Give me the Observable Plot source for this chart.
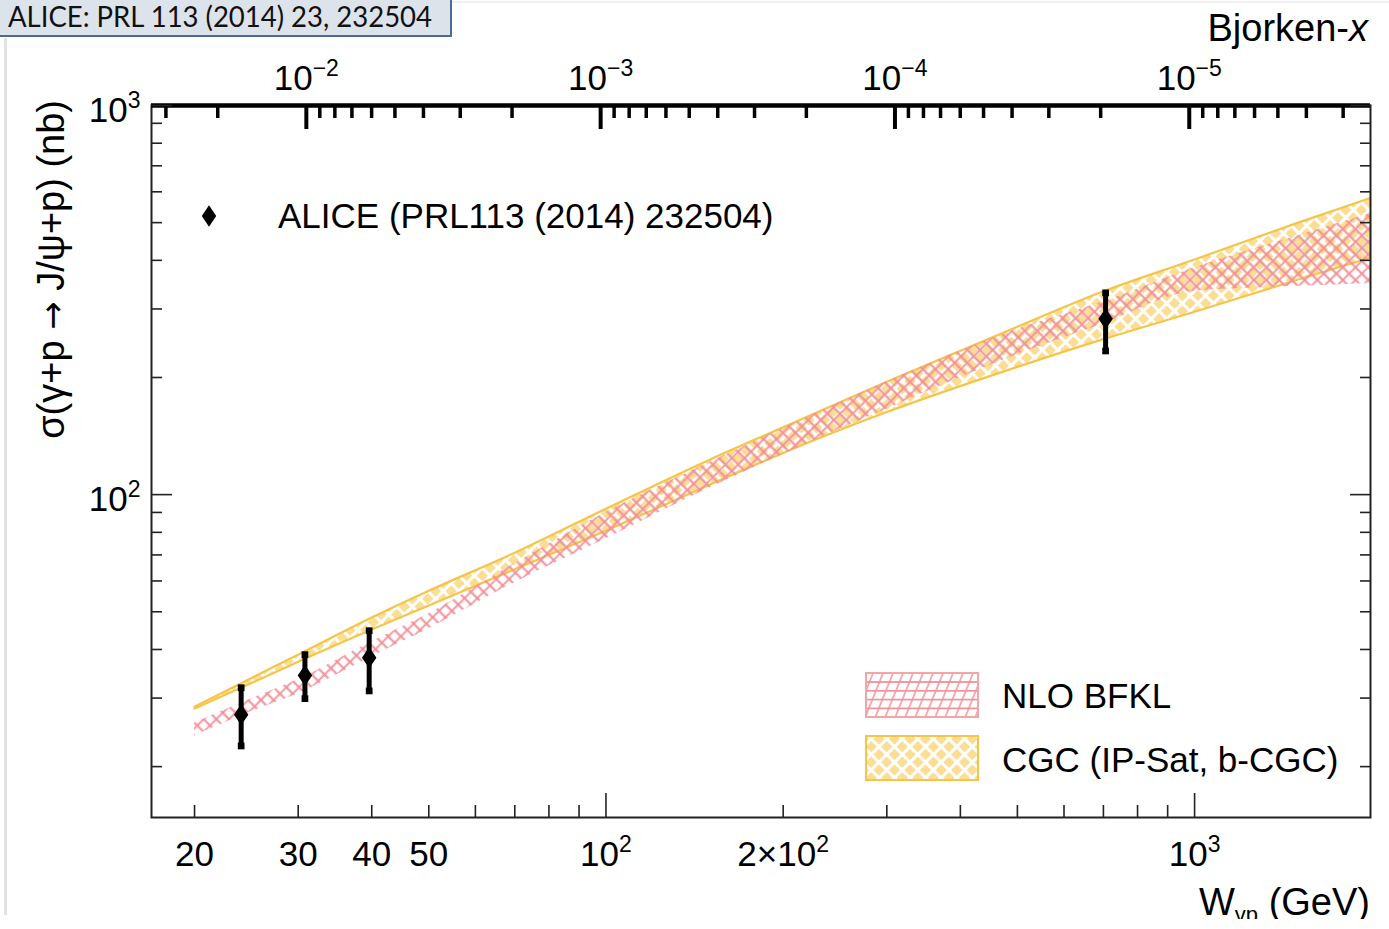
<!DOCTYPE html>
<html>
<head>
<meta charset="utf-8">
<script src="https://cdn.jsdelivr.net/npm/d3@7"></script>
<script src="https://cdn.jsdelivr.net/npm/@observablehq/plot@0.6"></script>
<style>
html,body{margin:0;padding:0;background:#fff;}
#wrap{position:relative;width:1389px;height:929px;overflow:hidden;}
</style>
</head>
<body>
<div id="wrap"></div>
<script>
// ---------------- data ----------------
const M_JPSI = 3.097; // GeV, Bjorken-x = (M/W)^2

// theory bands, W in GeV, sigma in nb
const bandW    = [20, 25, 30, 40, 50, 70, 100, 150, 200, 300, 500, 700, 1000, 1500, 2000];
const cgcHigh  = [28.5, 33.8, 38.8, 48.3, 56.6, 70.9, 92.0, 123, 149, 195, 270, 333, 402, 500, 580];
const cgcLow   = [28.2, 32.8, 37.2, 45.0, 51.9, 64.3, 80.8, 106, 128, 163, 213, 251, 295, 357, 407];
const bfklHigh = [25.9, 29.9, 33.5, 41.9, 49.4, 66.5, 90.0, 121, 148, 195, 266, 313, 383, 463, 528];
const bfklLow  = [24.0, 27.7, 30.8, 38.3, 45.2, 59.4, 77.0, 104, 127, 166, 229, 275, 333, 343, 349];

// ALICE data points
const aliceW       = [24.0, 30.8, 39.6, 706];
const aliceSigma   = [27.2, 34.3, 38.1, 283];
const aliceErrLow  = [22.6, 29.9, 31.3, 234];
const aliceErrHigh = [31.9, 38.8, 44.7, 330];

// axes
const xDomain = [16.9, 1990];
const yDomain = [14.8, 1000];
const wMajor = [100, 1000];
const wMinor = [20, 30, 40, 50, 60, 70, 80, 90, 200, 300, 400, 500, 600, 700, 800, 900];
const wLabels = [20, 30, 40, 50, 100, 200, 1000];
const wLabelText = ["20", "30", "40", "50", "10^2", "2×10^2", "10^3"];
const sigmaMajor = [100, 1000];
const sigmaMinor = [20, 30, 40, 50, 60, 70, 80, 90, 200, 300, 400, 500, 600, 700, 800, 900];
const sigmaLabels = [100, 1000];
const sigmaLabelText = ["10^2", "10^3"];
const bjorkenMajor = [1e-2, 1e-3, 1e-4, 1e-5];
const bjorkenLabelText = ["10^−2", "10^−3", "10^−4", "10^−5"];
const bjorkenMinor = [3e-2, 2e-2,
  9e-3, 8e-3, 7e-3, 6e-3, 5e-3, 4e-3, 3e-3, 2e-3,
  9e-4, 8e-4, 7e-4, 6e-4, 5e-4, 4e-4, 3e-4, 2e-4,
  9e-5, 8e-5, 7e-5, 6e-5, 5e-5, 4e-5, 3e-5, 2e-5,
  9e-6, 8e-6, 7e-6, 6e-6, 5e-6, 4e-6, 3e-6];

const legendAlice = "ALICE (PRL113 (2014) 232504)";
const legendBfkl = "NLO BFKL";
const legendCgc = "CGC (IP-Sat, b-CGC)";
const headerText = "ALICE: PRL 113 (2014) 23, 232504";

// ---------------- tables ----------------
const cgc = bandW.map((w, i) => ({w, lo: cgcLow[i], hi: cgcHigh[i]}));
const bfkl = bandW.map((w, i) => ({w, lo: bfklLow[i], hi: bfklHigh[i]}));
const alice = aliceW.map((w, i) => ({w, s: aliceSigma[i], lo: aliceErrLow[i], hi: aliceErrHigh[i]}));
const bjToW = (xb) => M_JPSI / Math.sqrt(xb);
const inX = (w) => w >= xDomain[0] && w <= xDomain[1];
const topMajorW = bjorkenMajor.map(bjToW);
const topMinorW = bjorkenMinor.map(bjToW).filter(inX);

// ROOT-like tall diamond marker
const tallDiamond = {
  draw(ctx, size) {
    const h = Math.sqrt(size) * 0.75, w = h * 0.68;
    ctx.moveTo(0, -h); ctx.lineTo(w, 0); ctx.lineTo(0, h); ctx.lineTo(-w, 0); ctx.closePath();
  }
};

const FONT = "'Liberation Sans', Arial, Helvetica, sans-serif";
const FS = 35;
const tickStroke = "#222";

const plot = Plot.plot({
  width: 1389,
  height: 929,
  marginLeft: 151,
  marginRight: 19,
  marginTop: 105,
  marginBottom: 112,
  style: {fontFamily: FONT, fontSize: FS + "px", color: "#000", background: "transparent"},
  x: {type: "log", domain: xDomain},
  y: {type: "log", domain: yDomain},
  marks: [
    // CGC band
    Plot.areaY(cgc, {x: "w", y1: "lo", y2: "hi", fill: "url(#cgcPattern)", curve: "monotone-x", clip: true}),
    Plot.line(cgc, {x: "w", y: "hi", stroke: "#f5c54a", strokeWidth: 2.2, curve: "monotone-x", clip: true}),
    Plot.line(cgc, {x: "w", y: "lo", stroke: "#f5c54a", strokeWidth: 2.2, curve: "monotone-x", clip: true}),
    // NLO BFKL band
    Plot.areaY(bfkl, {x: "w", y1: "lo", y2: "hi", fill: "url(#bfklPattern)", curve: "monotone-x", clip: true}),
    // ALICE data
    Plot.ruleX(alice, {x: "w", y1: "lo", y2: "hi", stroke: "#000", strokeWidth: 5}),
    Plot.dot(alice, {x: "w", y: "lo", symbol: "square", r: 3.8, fill: "#000"}),
    Plot.dot(alice, {x: "w", y: "hi", symbol: "square", r: 3.8, fill: "#000"}),
    Plot.dot(alice, {x: "w", y: "s", symbol: tallDiamond, r: 8, fill: "#000"}),
    // frame
    Plot.frame({stroke: "#222", strokeWidth: 2}),
    Plot.ruleY([yDomain[1]], {stroke: "#000", strokeWidth: 4.5}),
    // bottom axis ticks (inward)
    Plot.axisX(wMajor, {anchor: "bottom", tickSize: -24, tickFormat: () => "", label: null, stroke: tickStroke, strokeWidth: 1.6}),
    Plot.axisX(wMinor, {anchor: "bottom", tickSize: -12, tickFormat: () => "", label: null, stroke: tickStroke, strokeWidth: 1.6}),
    Plot.axisX(wLabels, {anchor: "bottom", tickSize: 0, tickPadding: 24, label: null, fontSize: FS,
      tickFormat: (d) => wLabelText[wLabels.indexOf(d)]}),
    // top axis (Bjorken-x)
    Plot.axisX(topMajorW, {anchor: "top", tickSize: -23, tickFormat: () => "", label: null, stroke: "#000", strokeWidth: 4}),
    Plot.axisX(topMinorW, {anchor: "top", tickSize: -12, tickFormat: () => "", label: null, stroke: "#000", strokeWidth: 3.5}),
    Plot.axisX(topMajorW, {anchor: "top", tickSize: 0, tickPadding: 16, label: null, fontSize: FS,
      tickFormat: (d) => bjorkenLabelText[topMajorW.indexOf(d)]}),
    // left axis
    Plot.axisY(sigmaMajor, {anchor: "left", tickSize: -21, tickFormat: () => "", label: null, stroke: tickStroke, strokeWidth: 1.6}),
    Plot.axisY(sigmaMinor, {anchor: "left", tickSize: -11, tickFormat: () => "", label: null, stroke: tickStroke, strokeWidth: 1.6}),
    Plot.axisY(sigmaLabels, {anchor: "left", tickSize: 0, tickPadding: 11, label: null, fontSize: FS, dy: 5,
      tickFormat: (d) => sigmaLabelText[sigmaLabels.indexOf(d)]}),
    // right axis (mirrored ticks)
    Plot.axisY(sigmaMajor, {anchor: "right", tickSize: -21, tickFormat: () => "", label: null, stroke: tickStroke, strokeWidth: 1.6}),
    Plot.axisY(sigmaMinor, {anchor: "right", tickSize: -11, tickFormat: () => "", label: null, stroke: tickStroke, strokeWidth: 1.6})
  ]
});

document.getElementById("wrap").appendChild(plot);

const svg = d3.select(plot);
svg.attr("font-family", FONT);

// ---------------- patterns ----------------
const defs = svg.insert("defs", ":first-child");
const cgcP = defs.append("pattern").attr("id", "cgcPattern").attr("patternUnits", "userSpaceOnUse")
  .attr("width", 11).attr("height", 11).attr("patternTransform", "rotate(45)");
cgcP.append("rect").attr("width", 11).attr("height", 11).attr("fill", "#fcdd94");
cgcP.append("path").attr("d", "M0,5.5H11M5.5,0V11").attr("stroke", "#fff").attr("stroke-width", 3).attr("fill", "none");

const bfklP = defs.append("pattern").attr("id", "bfklPattern").attr("patternUnits", "userSpaceOnUse")
  .attr("width", 9).attr("height", 9).attr("patternTransform", "rotate(45)");
bfklP.append("path").attr("d", "M0,4.5H9M4.5,0V9").attr("stroke", "#f18e97").attr("stroke-width", 1.8).attr("fill", "none");

const bfklL = defs.append("pattern").attr("id", "bfklLegend").attr("patternUnits", "userSpaceOnUse")
  .attr("width", 10).attr("height", 8.8).attr("patternTransform", "skewX(-22)");
bfklL.append("path").attr("d", "M0,4.4H10M5,0V8.8").attr("stroke", "#f2939b").attr("stroke-width", 1.6).attr("fill", "none");

// ---------------- superscripts in tick labels ----------------
svg.selectAll("text").each(function () {
  const t = this.textContent;
  if (!t.includes("^")) return;
  const [base, exp] = t.split("^");
  this.textContent = "";
  const s = d3.select(this);
  s.append("tspan").text(base);
  s.append("tspan").attr("dy", -14).attr("font-size", 23).text(exp);
});

// ---------------- titles ----------------
const bj = svg.append("text").attr("x", 1368).attr("y", 41).attr("text-anchor", "end")
  .attr("font-size", 38).attr("fill", "#000");
bj.append("tspan").text("Bjorken-");
bj.append("tspan").attr("font-style", "italic").text("x");

const wt = svg.append("text").attr("x", 1370).attr("y", 915).attr("text-anchor", "end")
  .attr("font-size", 38).attr("fill", "#000");
wt.append("tspan").text("W");
wt.append("tspan").attr("font-size", 22).attr("dy", 7).text("γp");
wt.append("tspan").attr("dy", -7).text(" (GeV)");

const yt = svg.append("text").attr("transform", "translate(64,100) rotate(-90)").attr("text-anchor", "end")
  .attr("font-size", 38).attr("fill", "#000");
yt.append("tspan").text("σ(γ+p ");
yt.append("tspan").attr("font-family", "'DejaVu Sans', sans-serif").attr("font-size", 34).text("→");
yt.append("tspan").text(" J/ψ+p) (nb)");

// ---------------- legend ----------------
svg.append("path").attr("transform", "translate(209,216)")
  .attr("d", d3.symbol(tallDiamond, Math.PI * 64)()).attr("fill", "#000");
svg.append("text").attr("x", 278).attr("y", 228).attr("text-anchor", "start")
  .attr("font-size", FS).attr("fill", "#000").text(legendAlice);

svg.append("rect").attr("x", 866).attr("y", 673).attr("width", 112).attr("height", 44)
  .attr("fill", "url(#bfklLegend)").attr("stroke", "#f4a5a8").attr("stroke-width", 2);
svg.append("text").attr("x", 1002).attr("y", 708).attr("text-anchor", "start")
  .attr("font-size", FS).attr("fill", "#000").text(legendBfkl);
svg.append("rect").attr("x", 866).attr("y", 736).attr("width", 112).attr("height", 44)
  .attr("fill", "url(#cgcPattern)").attr("stroke", "#f5c54a").attr("stroke-width", 2);
svg.append("text").attr("x", 1002).attr("y", 772).attr("text-anchor", "start")
  .attr("font-size", FS).attr("fill", "#000").text(legendCgc);

// ---------------- screenshot chrome ----------------
svg.append("rect").attr("x", 0).attr("y", 919).attr("width", 1389).attr("height", 10).attr("fill", "#fff");
svg.append("rect").attr("x", 4).attr("y", 38).attr("width", 3).attr("height", 877).attr("fill", "#e2e2e2");
svg.append("rect").attr("x", 452).attr("y", 1).attr("width", 937).attr("height", 2).attr("fill", "#f1f1f1");
svg.append("rect").attr("x", -2).attr("y", -2).attr("width", 453).attr("height", 38)
  .attr("fill", "#dde3ea").attr("stroke", "#4a6b96").attr("stroke-width", 2);
svg.append("text").attr("x", 8).attr("y", 27).attr("text-anchor", "start")
  .attr("font-family", "Lato, 'Open Sans', sans-serif")
  .attr("font-size", 28).attr("fill", "#111").attr("textLength", 424).attr("lengthAdjust", "spacingAndGlyphs")
  .text(headerText);
</script>
</body>
</html>
